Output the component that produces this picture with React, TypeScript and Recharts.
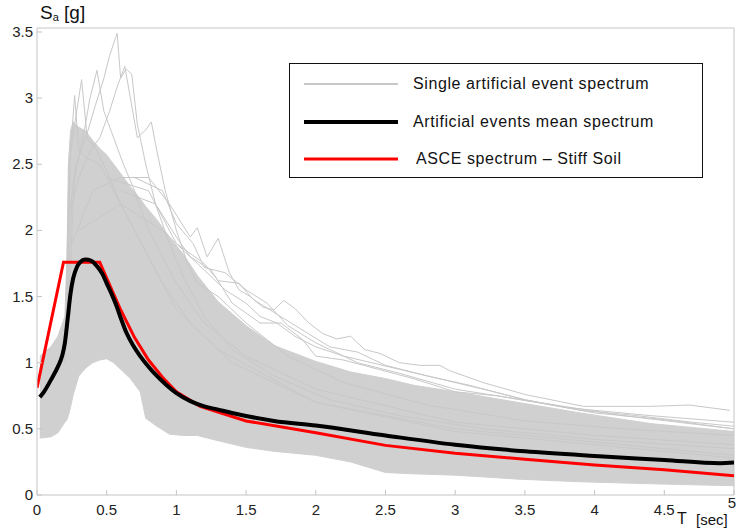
import React from 'react';
import { ComposedChart, Line, Area, XAxis, YAxis, ReferenceLine } from 'recharts';

// period grid and envelope of the dense cloud of single-event spectra
const bandT = [0.02, 0.1, 0.15, 0.2, 0.215, 0.225, 0.24, 0.26, 0.3, 0.35, 0.4, 0.45, 0.5, 0.55, 0.6, 0.67, 0.74, 0.78, 0.86, 0.95, 1.05, 1.15, 1.3, 1.5, 1.7, 1.9, 2.0, 2.25, 2.5, 2.7, 3.0, 3.45, 3.9, 4.4, 5.0];
const bandHigh = [1.05, 1.12, 1.2, 1.35, 1.8, 2.5, 2.75, 2.82, 2.78, 2.75, 2.68, 2.62, 2.57, 2.5, 2.43, 2.33, 2.24, 2.18, 2.08, 1.95, 1.82, 1.66, 1.46, 1.28, 1.13, 1.05, 1.01, 0.93, 0.88, 0.83, 0.78, 0.7, 0.62, 0.54, 0.48];
const bandLow = [0.43, 0.44, 0.47, 0.55, 0.57, 0.6, 0.66, 0.76, 0.9, 0.96, 1.0, 1.02, 1.03, 1.0, 0.95, 0.88, 0.78, 0.58, 0.52, 0.46, 0.45, 0.45, 0.41, 0.36, 0.33, 0.31, 0.3, 0.25, 0.17, 0.16, 0.15, 0.12, 0.1, 0.085, 0.07];

// individual event spectra that stick out of the cloud, [T, Sa]
const runA = [[0.2, 1.1], [0.23, 2.1], [0.28, 2.5], [0.35, 2.7], [0.42, 2.95], [0.48, 3.15], [0.52, 3.32], [0.575, 3.49], [0.6, 3.15], [0.64, 3.22], [0.68, 3.18], [0.72, 2.8], [0.78, 2.5], [0.85, 2.2], [0.95, 1.9], [1.05, 1.65], [1.2, 1.35], [1.4, 1.1], [1.7, 0.9], [2.1, 0.72], [2.6, 0.6], [3.2, 0.5], [4.0, 0.42], [5.0, 0.35]];
const runB = [[0.21, 1.2], [0.25, 2.2], [0.3, 2.4], [0.38, 2.6], [0.45, 2.7], [0.52, 2.9], [0.58, 3.1], [0.63, 3.24], [0.67, 3.0], [0.72, 2.7], [0.78, 2.76], [0.82, 2.82], [0.86, 2.6], [0.92, 2.3], [1.0, 2.0], [1.08, 1.75], [1.15, 1.6], [1.3, 1.5], [1.5, 1.3], [1.8, 1.05], [2.2, 0.85], [2.8, 0.68], [3.5, 0.56], [4.2, 0.5], [5.0, 0.45]];
const runC = [[0.2, 1.0], [0.23, 2.5], [0.27, 2.8], [0.32, 3.14], [0.36, 2.7], [0.42, 2.62], [0.5, 2.45], [0.6, 2.2], [0.75, 1.9], [0.9, 1.6], [1.1, 1.3], [1.4, 1.0], [2.0, 0.7], [3.0, 0.5], [5.0, 0.3]];
const runD = [[0.21, 1.1], [0.24, 2.6], [0.27, 3.02], [0.3, 2.6], [0.35, 2.55], [0.45, 2.5], [0.6, 2.2], [0.8, 1.8], [1.0, 1.4], [1.3, 1.1], [2.0, 0.7], [3.0, 0.48], [5.0, 0.28]];
const runE = [[0.22, 1.3], [0.27, 2.4], [0.33, 2.7], [0.38, 3.0], [0.43, 3.21], [0.48, 2.9], [0.55, 2.7], [0.62, 2.5], [0.7, 2.3], [0.8, 2.0], [0.9, 1.8], [1.0, 1.6], [1.2, 1.3], [1.5, 1.05], [2.0, 0.8], [3.0, 0.55], [4.0, 0.45], [5.0, 0.38]];
const runF = [[0.25, 1.9], [0.4, 2.3], [0.6, 2.4], [0.8, 2.4], [0.95, 2.2], [1.1, 1.95], [1.15, 2.02], [1.22, 1.8], [1.3, 1.94], [1.38, 1.68], [1.45, 1.55], [1.53, 1.5], [1.62, 1.42], [1.7, 1.4], [1.77, 1.47], [1.85, 1.41], [1.95, 1.3], [2.05, 1.22], [2.15, 1.18], [2.25, 1.2], [2.35, 1.1], [2.46, 1.07], [2.6, 1.0], [2.75, 0.98], [2.89, 0.98], [2.96, 0.94], [3.2, 0.85], [3.5, 0.76], [3.92, 0.67], [4.4, 0.67], [4.68, 0.68], [4.97, 0.64]];
const runG = [[0.3, 2.0], [0.6, 2.2], [0.9, 2.0], [1.05, 1.85], [1.2, 1.7], [1.35, 1.55], [1.5, 1.45], [1.6, 1.35], [1.72, 1.3], [1.85, 1.2], [2.0, 1.12], [2.2, 1.05], [2.4, 1.0], [2.6, 0.95], [2.8, 0.9], [3.0, 0.85], [3.2, 0.8], [3.5, 0.72], [3.9, 0.64], [4.3, 0.6], [4.7, 0.55], [5.0, 0.52]];
const runH = [[0.5, 2.4], [0.8, 2.3], [1.0, 1.9], [1.2, 1.75], [1.3, 1.62], [1.45, 1.6], [1.55, 1.48], [1.7, 1.38], [1.9, 1.25], [2.1, 1.12], [2.3, 1.08], [2.5, 0.98], [2.8, 0.9], [3.1, 0.83], [3.5, 0.72], [4.0, 0.62], [4.5, 0.57], [5.0, 0.5]];
const runI = [[0.6, 2.3], [0.85, 2.2], [1.0, 1.95], [1.1, 1.8], [1.25, 1.7], [1.4, 1.45], [1.6, 1.3], [1.75, 1.3], [1.9, 1.18], [2.0, 1.05], [2.2, 1.02], [2.45, 0.95], [2.7, 0.88], [3.0, 0.78], [3.3, 0.75], [3.8, 0.66], [4.4, 0.6], [5.0, 0.55]];
const runJ = [[0.7, 2.4], [0.9, 2.3], [1.0, 2.05], [1.12, 1.9], [1.2, 1.72], [1.35, 1.68], [1.5, 1.55], [1.65, 1.45], [1.8, 1.28], [2.0, 1.15], [2.3, 1.0], [2.6, 0.92], [3.0, 0.8], [3.6, 0.7], [4.2, 0.6], [5.0, 0.5]];
const singleRuns = [runA, runB, runC, runD, runE, runF, runG, runH, runI, runJ];

// mean of the artificial events
const meanT = [0.02, 0.05, 0.1, 0.15, 0.18, 0.2, 0.22, 0.24, 0.26, 0.285, 0.31, 0.345, 0.39, 0.43, 0.47, 0.5, 0.535, 0.57, 0.6, 0.64, 0.69, 0.74, 0.8, 0.86, 0.93, 1.0, 1.1, 1.2, 1.3, 1.4, 1.7, 2.0, 2.5, 3.0, 3.5, 4.0, 4.5, 4.9, 5.0];
const meanSa = [0.74, 0.78, 0.87, 0.97, 1.05, 1.15, 1.33, 1.52, 1.64, 1.72, 1.76, 1.78, 1.77, 1.73, 1.67, 1.6, 1.52, 1.43, 1.34, 1.23, 1.13, 1.05, 0.97, 0.9, 0.83, 0.77, 0.71, 0.67, 0.645, 0.62, 0.56, 0.525, 0.45, 0.38, 0.33, 0.295, 0.265, 0.24, 0.245];

// ASCE design spectrum, stiff soil
const asceT = [0, 0.19, 0.45, 0.6, 0.7, 0.8, 0.9, 1.0, 1.17, 1.5, 2.0, 2.5, 3.0, 3.5, 4.0, 4.5, 5.0];
const asceSa = [0.81, 1.76, 1.76, 1.4, 1.19, 1.02, 0.89, 0.78, 0.67, 0.56, 0.47, 0.375, 0.315, 0.27, 0.227, 0.19, 0.145];

const xTicks = [0, 0.5, 1, 1.5, 2, 2.5, 3, 3.5, 4, 4.5, 5];
const yTicks = [0, 0.5, 1, 1.5, 2, 2.5, 3, 3.5];

const legendItems = [
  { label: 'Single artificial event spectrum', color: '#c8c8c8', width: 2 },
  { label: 'Artificial events mean spectrum', color: '#000000', width: 4 },
  { label: 'ASCE spectrum \u2013 Stiff Soil', color: '#ff0000', width: 3 },
];

const FONT = '"Liberation Sans", Arial, sans-serif';
const AXIS_GREY = '#c4c4c4';
const CLOUD_GREY = '#d0d0d0';

const bandData = bandT.map((t, i) => ({ t, range: [bandLow[i], bandHigh[i]] }));
const runData = singleRuns.map((run) => run.map(([t, v]) => ({ t, v })));
const meanData = meanT.map((t, i) => ({ t, v: meanSa[i] }));
const asceData = asceT.map((t, i) => ({ t, v: asceSa[i] }));

const XTick = (props: any) => {
  const { x, y, payload } = props;
  const last = payload.value === 5;
  return (
    <g>
      <line x1={x} y1={y} x2={x} y2={y - 5} stroke={AXIS_GREY} />
      <text x={last ? x - 2 : x} y={last ? y + 13 : y + 20} textAnchor="middle" fontSize={15} fontFamily={FONT} fill="#222">
        {payload.value}
      </text>
    </g>
  );
};

const YTick = (props: any) => {
  const { x, y, payload } = props;
  return (
    <g>
      <line x1={x} y1={y} x2={x + 5} y2={y} stroke={AXIS_GREY} />
      <text x={x - 4} y={y + 5} textAnchor="end" fontSize={15} fontFamily={FONT} fill="#222">
        {payload.value}
      </text>
    </g>
  );
};

const SpectraLegend = () => (
  <div
    style={{
      position: 'absolute',
      left: 289,
      top: 63,
      width: 412,
      height: 113,
      border: '1.5px solid #111',
      background: '#fff',
      fontFamily: FONT,
      fontSize: 16,
      color: '#111',
    }}
  >
    {legendItems.map((item, i) => (
      <div key={item.label} style={{ position: 'absolute', left: 13, top: 9 + i * 37.5, height: 22, display: 'flex', alignItems: 'center' }}>
        <svg width={96} height={8}>
          <line x1={1} y1={4} x2={95} y2={4} stroke={item.color} strokeWidth={item.width} />
        </svg>
        <span style={{ marginLeft: i === 2 ? 17 : 14, letterSpacing: 0.6, whiteSpace: 'nowrap' }}>{item.label}</span>
      </div>
    ))}
  </div>
);

export default function App() {
  return (
    <div style={{ position: 'absolute', left: 0, top: 0, width: 737, height: 530, background: '#fff' }}>
      <ComposedChart width={737} height={530} margin={{ top: 28, right: 3, bottom: 0, left: 0 }}>
        <XAxis
          type="number"
          dataKey="t"
          domain={[0, 5]}
          ticks={xTicks}
          allowDataOverflow
          height={35}
          stroke={AXIS_GREY}
          tickLine={false}
          tickSize={0}
          tickMargin={0}
          tick={<XTick />}
          interval={0}
        />
        <YAxis
          type="number"
          domain={[0, 3.53]}
          ticks={yTicks}
          allowDataOverflow
          width={37}
          stroke={AXIS_GREY}
          tickLine={false}
          tickSize={0}
          tickMargin={0}
          tick={<YTick />}
          interval={0}
        />
        <ReferenceLine y={3.53} stroke={AXIS_GREY} />
        <ReferenceLine x={5} stroke={AXIS_GREY} />
        <Area data={bandData} dataKey="range" type="linear" stroke={CLOUD_GREY} strokeWidth={1} fill={CLOUD_GREY} fillOpacity={1} isAnimationActive={false} />
        {runData.map((d, i) => (
          <Line key={i} data={d} dataKey="v" type="linear" stroke="#c8c8c8" strokeWidth={1} dot={false} isAnimationActive={false} />
        ))}
        <Line data={asceData} dataKey="v" type="linear" stroke="#ff0000" strokeWidth={3} dot={false} isAnimationActive={false} />
        <Line data={meanData} dataKey="v" type="monotone" stroke="#000" strokeWidth={4} dot={false} isAnimationActive={false} />
      </ComposedChart>
      <div style={{ position: 'absolute', left: 40, top: 2, fontFamily: FONT, fontSize: 19, color: '#111', whiteSpace: 'nowrap' }}>
        S<span style={{ fontSize: 11, position: 'relative', top: 2 }}>a</span> [g]
      </div>
      <div style={{ position: 'absolute', left: 677, top: 510, fontFamily: FONT, fontSize: 16, color: '#111', whiteSpace: 'nowrap' }}>
        T
      </div>
      <div style={{ position: 'absolute', left: 696, top: 511, fontFamily: FONT, fontSize: 15, color: '#111', whiteSpace: 'nowrap' }}>
        [sec]
      </div>
      <SpectraLegend />
    </div>
  );
}
